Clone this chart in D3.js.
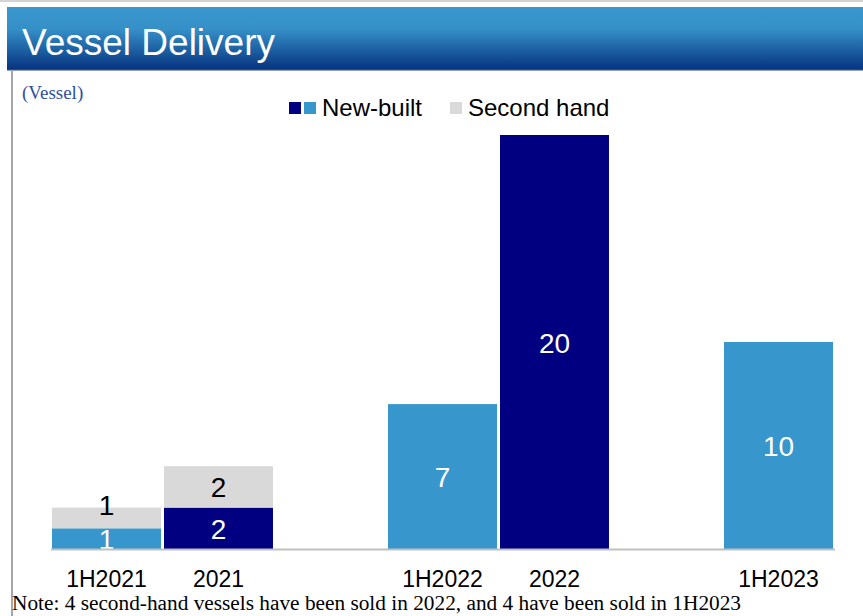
<!DOCTYPE html>
<html>
<head>
<meta charset="utf-8">
<script src="https://cdn.jsdelivr.net/npm/d3@7"></script>
<style>
  body { margin: 0; background: #fff; }
  svg { display: block; }
</style>
</head>
<body>
<svg id="chart" width="863" height="616"></svg>
<script>
// categories sit in 7 slots; slots 2 and 5 are left empty
const categories = ['1H2021', '2021', '1H2022', '2022', '1H2023']
const slots = [0, 1, 3, 4, 6]
const newBuilt = [1, 2, 7, 20, 10]
const secondHand = [1, 2, 0, 0, 0]
// full-year bars are navy, half-year bars light blue
const isFullYear = [false, true, false, true, false]

const navy = '#000080'
const lightBlue = '#3797cc'
const grey = '#d9d9d9'

const svg = d3.select('#chart')

// title banner
const defs = svg.append('defs')
const grad = defs.append('linearGradient')
  .attr('id', 'titleGrad')
  .attr('x1', 0).attr('y1', 0).attr('x2', 0).attr('y2', 1)
grad.append('stop').attr('offset', '0%').attr('stop-color', '#3a98ce')
grad.append('stop').attr('offset', '35%').attr('stop-color', '#3590c8')
grad.append('stop').attr('offset', '100%').attr('stop-color', '#06327e')

svg.append('rect')
  .attr('x', 0).attr('y', 0).attr('width', 863).attr('height', 2)
  .attr('fill', '#d4d4d4')

svg.append('rect')
  .attr('x', 7).attr('y', 7).attr('width', 856).attr('height', 63)
  .attr('fill', 'url(#titleGrad)')
svg.append('rect')
  .attr('x', 7).attr('y', 69).attr('width', 856).attr('height', 1.5)
  .attr('fill', '#2b4778')

svg.append('text')
  .attr('x', 22).attr('y', 55)
  .attr('fill', '#fff')
  .style('font-family', 'Liberation Sans, Arial, sans-serif')
  .style('font-size', '36px')
  .attr('textLength', 253)
  .attr('lengthAdjust', 'spacingAndGlyphs')
  .text('Vessel Delivery')

// left frame line
svg.append('rect')
  .attr('x', 11).attr('y', 70).attr('width', 2).attr('height', 546)
  .attr('fill', '#a6a6a6')

svg.append('text')
  .attr('x', 22).attr('y', 99)
  .attr('fill', '#2f4f9f')
  .style('font-family', 'Liberation Serif, Times New Roman, serif')
  .style('font-size', '19px')
  .text('(Vessel)')

// scales
const x = d3.scaleBand()
  .domain(d3.range(7))
  .range([50.5, 834.5])
  .paddingInner(3 / 112)
  .paddingOuter(1.5 / 112)

const y = d3.scaleLinear()
  .domain([0, 20])
  .range([549, 135])

// bars
const rows = categories.map((c, i) => ({
  cat: c,
  slot: slots[i],
  nb: newBuilt[i],
  sh: secondHand[i],
  full: isFullYear[i]
}))

const g = svg.append('g')

g.selectAll('.nb')
  .data(rows)
  .enter()
  .append('rect')
  .attr('class', 'nb')
  .attr('x', d => x(d.slot))
  .attr('width', x.bandwidth())
  .attr('y', d => y(d.nb))
  .attr('height', d => y(0) - y(d.nb))
  .attr('fill', d => d.full ? navy : lightBlue)

g.selectAll('.sh')
  .data(rows.filter(d => d.sh > 0))
  .enter()
  .append('rect')
  .attr('class', 'sh')
  .attr('x', d => x(d.slot))
  .attr('width', x.bandwidth())
  .attr('y', d => y(d.nb + d.sh))
  .attr('height', d => y(d.nb) - y(d.nb + d.sh))
  .attr('fill', grey)

// axis
const axis = svg.append('g')
  .attr('transform', `translate(0, ${y(0)})`)
  .call(d3.axisBottom(x)
    .tickSize(0)
    .tickFormat(i => {
      const k = slots.indexOf(i)
      return k >= 0 ? categories[k] : ''
    }))

axis.select('.domain')
  .attr('stroke', '#c0c0c0')
  .attr('stroke-width', 2)

axis.selectAll('text')
  .attr('y', 38)
  .attr('dy', 0)
  .attr('fill', '#000')
  .style('font-family', 'Liberation Sans, Arial, sans-serif')
  .style('font-size', '23px')

// value labels
const labelFont = 'Liberation Sans, Arial, sans-serif'

g.selectAll('.nbLabel')
  .data(rows)
  .enter()
  .append('text')
  .attr('x', d => x(d.slot) + x.bandwidth() / 2)
  .attr('y', d => (y(0) + y(d.nb)) / 2)
  .attr('dy', '0.38em')
  .attr('text-anchor', 'middle')
  .attr('fill', '#fff')
  .style('font-family', labelFont)
  .style('font-size', '28px')
  .text(d => d.nb)

g.selectAll('.shLabel')
  .data(rows.filter(d => d.sh > 0))
  .enter()
  .append('text')
  .attr('x', d => x(d.slot) + x.bandwidth() / 2)
  .attr('y', d => {
    const top = y(d.nb + d.sh)
    const bottom = y(d.nb)
    // thin segments push the label up onto the top edge
    return bottom - top < 25 ? top - 3 : (top + bottom) / 2
  })
  .attr('dy', '0.36em')
  .attr('text-anchor', 'middle')
  .attr('fill', '#000')
  .style('font-family', labelFont)
  .style('font-size', '28px')
  .text(d => d.sh)

// legend
const legendFont = 'Liberation Sans, Arial, sans-serif'
svg.append('rect').attr('x', 289).attr('y', 102).attr('width', 12).attr('height', 12).attr('fill', navy)
svg.append('rect').attr('x', 304).attr('y', 102).attr('width', 12).attr('height', 12).attr('fill', lightBlue)
svg.append('text')
  .attr('x', 322).attr('y', 116)
  .style('font-family', legendFont)
  .style('font-size', '24px')
  .text('New-built')
svg.append('rect').attr('x', 450).attr('y', 102).attr('width', 12).attr('height', 12).attr('fill', grey)
svg.append('text')
  .attr('x', 468).attr('y', 116)
  .style('font-family', legendFont)
  .style('font-size', '24px')
  .text('Second hand')

// footnote
svg.append('text')
  .attr('x', 12).attr('y', 610)
  .style('font-family', 'Liberation Serif, Times New Roman, serif')
  .style('font-size', '20px')
  .attr('textLength', 729)
  .attr('lengthAdjust', 'spacingAndGlyphs')
  .text('Note: 4 second-hand vessels have been sold in 2022, and 4 have been sold in 1H2023')
</script>
</body>
</html>
